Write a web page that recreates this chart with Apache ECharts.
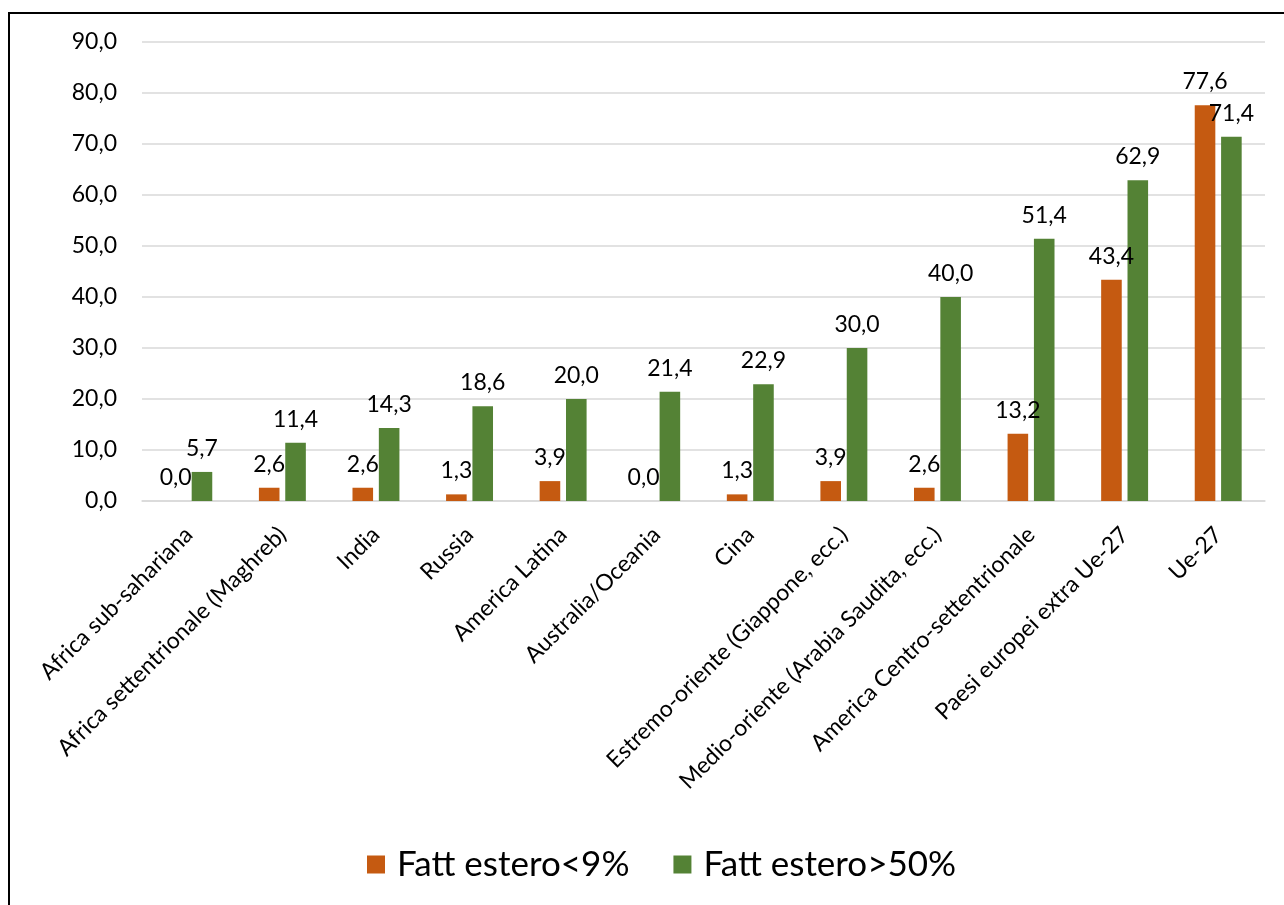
<!DOCTYPE html>
<html>
<head>
<meta charset="utf-8">
<style>
  html, body { margin: 0; padding: 0; background: #fff; }
  #chart { width: 1284px; height: 905px; }
</style>
<script src="https://cdn.jsdelivr.net/npm/echarts@6/dist/echarts.min.js"></script>
</head>
<body>
<div id="chart"></div>
<script>
const categories = [
  'Africa sub-sahariana',
  'Africa settentrionale (Maghreb)',
  'India',
  'Russia',
  'America Latina',
  'Australia/Oceania',
  'Cina',
  'Estremo-oriente (Giappone, ecc.)',
  'Medio-oriente (Arabia Saudita, ecc.)',
  'America Centro-settentrionale',
  'Paesi europei extra Ue-27',
  'Ue-27'
];
const seriesNames = ['Fatt estero<9%', 'Fatt estero>50%'];
const fattSotto9 = [0.0, 2.6, 2.6, 1.3, 3.9, 0.0, 1.3, 3.9, 2.6, 13.2, 43.4, 77.6];
const fattSopra50 = [5.7, 11.4, 14.3, 18.6, 20.0, 21.4, 22.9, 30.0, 40.0, 51.4, 62.9, 71.4];
const yTicks = { min: 0, max: 90, interval: 10 };

const FONT = 'Lato, "Open Sans", sans-serif';
const fmt = v => v.toFixed(1).replace('.', ',');

const chart = echarts.init(document.getElementById('chart'));

const labelStyle = {
  show: true,
  position: 'top',
  distance: 12,
  color: '#000',
  fontFamily: FONT,
  fontSize: 23,
  formatter: p => fmt(p.value)
};

chart.setOption({
  animation: false,
  textStyle: { fontFamily: FONT },
  graphic: [{
    type: 'rect',
    shape: { x: 9, y: 13, width: 1300, height: 1000 },
    style: { fill: 'none', stroke: '#000', lineWidth: 2 },
    silent: true
  }],
  grid: { left: 142, right: 19, top: 42, bottom: 404 },
  legend: {
    top: 842,
    left: 362,
    itemWidth: 18,
    itemHeight: 18,
    itemGap: 44,
    icon: 'rect',
    textStyle: { fontSize: 35, color: '#000', fontFamily: FONT, padding: [0, 0, 0, 7] },
    data: seriesNames
  },
  xAxis: {
    type: 'category',
    data: categories,
    axisLine: { lineStyle: { color: '#d9d9d9', width: 1.5 } },
    axisTick: { show: false },
    axisLabel: {
      rotate: 45,
      interval: 0,
      margin: 30,
      color: '#000',
      fontSize: 23,
      fontFamily: FONT
    }
  },
  yAxis: {
    type: 'value',
    min: yTicks.min,
    max: yTicks.max,
    interval: yTicks.interval,
    axisLine: { show: false },
    axisTick: { show: false },
    splitLine: { lineStyle: { color: '#d9d9d9', width: 1.5 } },
    axisLabel: {
      margin: 25,
      color: '#000',
      fontSize: 23,
      fontFamily: FONT,
      formatter: v => fmt(v)
    }
  },
  series: [
    {
      name: seriesNames[0],
      type: 'bar',
      data: fattSotto9,
      barWidth: '22%',
      barGap: '28%',
      itemStyle: { color: '#C55A11' },
      label: labelStyle
    },
    {
      name: seriesNames[1],
      type: 'bar',
      data: fattSopra50,
      barWidth: '22%',
      itemStyle: { color: '#548235' },
      label: labelStyle
    }
  ]
});
</script>
</body>
</html>
